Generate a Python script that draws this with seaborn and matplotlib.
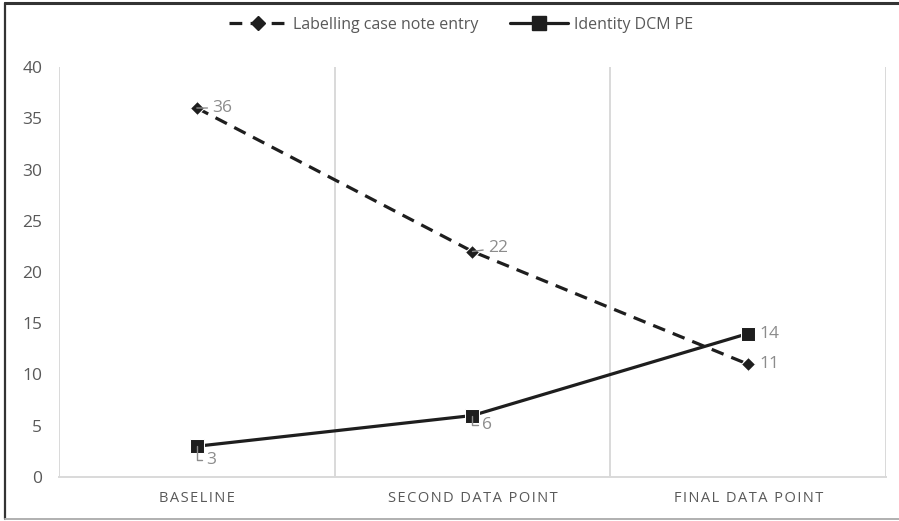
import matplotlib
matplotlib.use("Agg")
import matplotlib.pyplot as plt
import seaborn as sns
import pandas as pd
from matplotlib.lines import Line2D

# Chart data
categories = ["BASELINE", "SECOND DATA POINT", "FINAL DATA POINT"]
labelling_values = [36, 22, 11]
identity_values = [3, 6, 14]
series_names = ["Labelling case note entry", "Identity DCM PE"]
y_ticks = [0, 5, 10, 15, 20, 25, 30, 35, 40]

sns.set_theme(style="white")
plt.rcParams["font.family"] = ["Open Sans", "DejaVu Sans"]

df = pd.DataFrame({
    "category": categories * 2,
    "value": labelling_values + identity_values,
    "series": [series_names[0]] * 3 + [series_names[1]] * 3,
})

fig = plt.figure(figsize=(8.99, 5.21), dpi=100)
ax = fig.add_axes([59 / 899, 44 / 521, (886 - 59) / 899, (477 - 67) / 521])

line_color = "#1e1e1e"
sns.lineplot(
    data=df, x="category", y="value", hue="series", style="series",
    palette={series_names[0]: line_color, series_names[1]: line_color},
    dashes={series_names[0]: (4, 2.6), series_names[1]: ""},
    markers={series_names[0]: "D", series_names[1]: "s"},
    markersize=8, linewidth=2.3, ax=ax, legend=False,
)
lines = ax.get_lines()
lines[0].set_markersize(7.5)
lines[1].set_markersize(10.5)

ax.set_xlim(-0.5, 2.5)
ax.set_ylim(0, 40)
ax.set_yticks(y_ticks)
ax.set_yticklabels([str(t) for t in y_ticks])
ax.set_xticks(range(len(categories)))
ax.set_xticklabels(["\u200a".join(c) for c in categories])
ax.set_xticks([-0.5, 0.5, 1.5, 2.5], minor=True)
ax.grid(False)
ax.grid(which="minor", axis="x", color="#d9d9d9", linewidth=1.4)
ax.tick_params(axis="both", which="both", length=0)
ax.tick_params(axis="y", pad=12, labelsize=12.5, labelcolor="#595959")
ax.tick_params(axis="x", pad=10, labelsize=10.5, labelcolor="#595959")
ax.set_xlabel("")
ax.set_ylabel("")
for side in ["top", "right", "left"]:
    ax.spines[side].set_visible(False)
ax.spines["bottom"].set_color("#d9d9d9")
ax.spines["bottom"].set_linewidth(1.4)

# Data labels with leader lines
label_color = "#8c8c8c"
fs = 12.5
lead = dict(arrowstyle="-", color=label_color, lw=1, shrinkA=1, shrinkB=0)
lead_l = dict(lead, connectionstyle="angle,angleA=0,angleB=90,rad=0")
ax.annotate(str(labelling_values[0]), xy=(0, labelling_values[0]), xytext=(11, 0),
            textcoords="offset points", ha="left", va="center", fontsize=fs,
            color=label_color, arrowprops=lead)
ax.annotate(str(labelling_values[1]), xy=(1, labelling_values[1]), xytext=(11, 2.5),
            textcoords="offset points", ha="left", va="center", fontsize=fs,
            color=label_color, arrowprops=lead)
ax.annotate(str(labelling_values[2]), xy=(2, labelling_values[2]), xytext=(8, 0),
            textcoords="offset points", ha="left", va="center", fontsize=fs,
            color=label_color)
ax.annotate(str(identity_values[0]), xy=(0, identity_values[0]), xytext=(7, -10),
            textcoords="offset points", ha="left", va="center", fontsize=fs,
            color=label_color, arrowprops=lead_l)
ax.annotate(str(identity_values[1]), xy=(1, identity_values[1]), xytext=(7, -7),
            textcoords="offset points", ha="left", va="center", fontsize=fs,
            color=label_color, arrowprops=lead_l)
ax.annotate(str(identity_values[2]), xy=(2, identity_values[2]), xytext=(8, 0),
            textcoords="offset points", ha="left", va="center", fontsize=fs,
            color=label_color)

# Legend
handles = [
    Line2D([], [], color=line_color, lw=2.3, dashes=(4, 2.6), marker="D", markersize=7.5),
    Line2D([], [], color=line_color, lw=2.3, marker="s", markersize=10.5),
]
fig.legend(handles, series_names, loc="center", bbox_to_anchor=(0.513, 1 - 25 / 521),
           ncol=2, frameon=False, handlelength=3.6, columnspacing=2.0,
           handletextpad=0.4, prop={"size": 11.5}, labelcolor="#595959")

# Outer frame
fig.add_artist(Line2D([5 / 899, 1], [1 - 3 / 521] * 2, color="#333333", lw=2.2,
                      transform=fig.transFigure))
fig.add_artist(Line2D([5 / 899] * 2, [2 / 521, 1 - 3 / 521], color="#333333", lw=1.6,
                      transform=fig.transFigure))
fig.add_artist(Line2D([5 / 899, 1], [2 / 521] * 2, color="#b0b0b0", lw=1.4,
                      transform=fig.transFigure))

fig.savefig("out.png", dpi=100)
